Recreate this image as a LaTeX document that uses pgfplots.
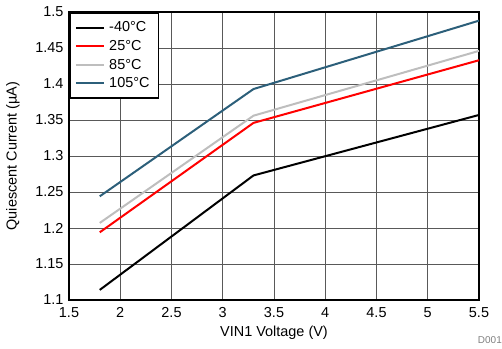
\documentclass[border=0pt]{standalone}
\usepackage{pgfplots}
\pgfplotsset{compat=1.18}
\usepackage{fontspec}
\setmainfont{Liberation Sans}
\definecolor{c105}{RGB}{44,95,122}
\definecolor{c85}{RGB}{190,190,190}
\begin{document}
\begin{tikzpicture}
\begin{axis}[
  scale only axis, width=410bp, height=288bp,
  at={(0,0)}, anchor=south west,
  xmin=1.5, xmax=5.5, ymin=1.1, ymax=1.5,
  xtick={1.5,2,...,5.5}, ytick={1.1,1.15,...,1.51},
  /pgf/number format/assume math mode=true,
  yticklabel style={/pgf/number format/fixed, /pgf/number format/precision=2, xshift=-2bp},
  xticklabel style={/pgf/number format/fixed, /pgf/number format/precision=1, yshift=-4bp},
  tick label style={font=\fontsize{14.5}{16}\selectfont},
  label style={font=\fontsize{14.5}{16}\selectfont},
  xlabel={VIN1 Voltage (V)}, ylabel={Quiescent Current (µA)},
  xlabel style={yshift=-1bp}, ylabel style={yshift=9bp},
  grid=major, major grid style={gray!70!black, line width=1bp},
  major tick length=0pt,
  axis line style={line width=2bp},
  legend style={at={(0,1)}, anchor=north west, draw=black, line width=1.8bp,
    font=\fontsize{14.5}{16}\selectfont, row sep=3bp, inner xsep=5bp, inner ysep=7bp,
    nodes={inner xsep=4bp}},
  legend cell align=left,
  legend image code/.code={\draw[#1, line width=2bp] (0cm,0cm) -- (1cm,0cm);},
  every axis plot/.append style={line width=2bp},
]
\addplot[black] coordinates {(1.8,1.114) (3.3,1.273) (5.5,1.357)};
\addplot[red] coordinates {(1.8,1.194) (3.3,1.346) (5.5,1.433)};
\addplot[c85] coordinates {(1.8,1.207) (3.3,1.356) (5.5,1.446)};
\addplot[c105] coordinates {(1.8,1.244) (3.3,1.393) (5.5,1.488)};
\legend{-40°C, 25°C, 85°C, 105°C}
\end{axis}
\node[anchor=south east, text=gray, font=\fontsize{10}{11}\selectfont, inner sep=0pt] at (433bp,-44bp) {D001};
\path (-69bp,-49bp) rectangle (433bp,300bp);
\end{tikzpicture}
\end{document}
